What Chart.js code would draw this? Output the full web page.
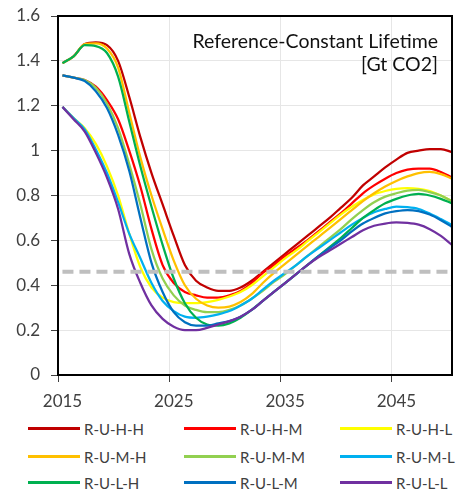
<!DOCTYPE html>
<html>
<head>
<meta charset="utf-8">
<script src="https://cdn.jsdelivr.net/npm/chart.js@4.4.1/dist/chart.umd.min.js"></script>
<style>
  body { margin: 0; background: #fff; font-family: Lato, "Open Sans", sans-serif; }
  #wrap { position: relative; width: 460px; height: 497px; }
  #note { position: absolute; right: 22px; top: 29px; text-align: right; font-size: 19.5px; line-height: 23px; color: #111; }
  .item { position: absolute; height: 20px; font-size: 15px; line-height: 20px; color: #404040; white-space: nowrap; }
  .item span.swatch { position: absolute; left: 0; top: 8px; width: 52px; height: 3px; }
  .item span.label { position: absolute; left: 56px; top: 0; }
</style>
</head>
<body>
<div id="wrap">
  <canvas id="mycanvas" width="460" height="415"></canvas>
  <div id="note">Reference-Constant Lifetime<br>[Gt CO2]</div>
  <div id="legend"></div>
</div>
<script>
var years = [2015, 2016, 2017, 2018, 2019, 2020, 2021, 2022, 2023, 2024, 2025, 2026,
             2027, 2028, 2029, 2030, 2031, 2032, 2033, 2034, 2035, 2036, 2037, 2038,
             2039, 2040, 2041, 2042, 2043, 2044, 2045, 2046, 2047, 2048, 2049, 2050];

var ruHH = [1.39, 1.42, 1.475, 1.482, 1.47, 1.40, 1.24, 1.06, 0.90, 0.76, 0.62, 0.49,
            0.42, 0.39, 0.375, 0.375, 0.39, 0.42, 0.46, 0.50, 0.54, 0.58, 0.62, 0.66,
            0.70, 0.745, 0.79, 0.845, 0.885, 0.925, 0.96, 0.99, 1.0, 1.007, 1.007, 0.993];
var ruHM = [1.335, 1.325, 1.315, 1.285, 1.225, 1.14, 1.0, 0.84, 0.65, 0.49, 0.41, 0.37,
            0.355, 0.345, 0.345, 0.355, 0.375, 0.41, 0.455, 0.49, 0.53, 0.565, 0.60, 0.64,
            0.68, 0.72, 0.765, 0.81, 0.845, 0.875, 0.90, 0.915, 0.92, 0.92, 0.905, 0.88];
var ruHL = [1.195, 1.145, 1.10, 1.03, 0.93, 0.80, 0.63, 0.48, 0.39, 0.345, 0.325, 0.32,
            0.32, 0.325, 0.335, 0.35, 0.37, 0.40, 0.44, 0.48, 0.52, 0.555, 0.595, 0.635,
            0.675, 0.715, 0.75, 0.78, 0.805, 0.82, 0.83, 0.833, 0.83, 0.82, 0.80, 0.775];
var ruMH = [1.39, 1.42, 1.475, 1.478, 1.455, 1.37, 1.17, 0.97, 0.80, 0.65, 0.51, 0.40,
            0.34, 0.31, 0.30, 0.305, 0.325, 0.36, 0.41, 0.455, 0.495, 0.535, 0.575, 0.615,
            0.655, 0.695, 0.735, 0.775, 0.81, 0.84, 0.865, 0.885, 0.90, 0.905, 0.895, 0.875];
var ruMM = [1.335, 1.325, 1.315, 1.28, 1.21, 1.10, 0.94, 0.76, 0.56, 0.43, 0.355, 0.31,
            0.29, 0.28, 0.28, 0.29, 0.31, 0.34, 0.375, 0.415, 0.45, 0.49, 0.53, 0.57,
            0.61, 0.65, 0.695, 0.735, 0.77, 0.795, 0.81, 0.822, 0.825, 0.815, 0.80, 0.775];
var ruML = [1.195, 1.145, 1.095, 1.005, 0.90, 0.77, 0.63, 0.52, 0.41, 0.33, 0.285, 0.26,
            0.255, 0.26, 0.27, 0.285, 0.31, 0.34, 0.38, 0.42, 0.455, 0.49, 0.53, 0.565,
            0.60, 0.635, 0.67, 0.70, 0.725, 0.74, 0.75, 0.748, 0.74, 0.72, 0.695, 0.668];
var ruLH = [1.39, 1.42, 1.47, 1.466, 1.435, 1.33, 1.13, 0.93, 0.75, 0.58, 0.43, 0.32,
            0.255, 0.225, 0.22, 0.23, 0.255, 0.29, 0.33, 0.37, 0.41, 0.45, 0.49, 0.53,
            0.57, 0.61, 0.655, 0.70, 0.735, 0.765, 0.785, 0.80, 0.807, 0.80, 0.785, 0.765];
var ruLM = [1.335, 1.325, 1.31, 1.265, 1.19, 1.07, 0.91, 0.70, 0.50, 0.37, 0.28, 0.235,
            0.22, 0.22, 0.23, 0.24, 0.26, 0.29, 0.33, 0.37, 0.41, 0.45, 0.49, 0.53,
            0.565, 0.60, 0.64, 0.675, 0.70, 0.72, 0.73, 0.735, 0.73, 0.715, 0.69, 0.66];
var ruLL = [1.195, 1.14, 1.085, 0.99, 0.88, 0.74, 0.54, 0.41, 0.31, 0.25, 0.215, 0.20,
            0.20, 0.21, 0.225, 0.24, 0.26, 0.29, 0.33, 0.37, 0.41, 0.45, 0.49, 0.525,
            0.555, 0.585, 0.615, 0.645, 0.665, 0.675, 0.68, 0.678, 0.67, 0.65, 0.62, 0.58];

var seriesNames = ["R-U-H-H", "R-U-H-M", "R-U-H-L", "R-U-M-H", "R-U-M-M", "R-U-M-L", "R-U-L-H", "R-U-L-M", "R-U-L-L"];
var seriesData = [ruHH, ruHM, ruHL, ruMH, ruMM, ruML, ruLH, ruLM, ruLL];
var seriesColors = ["#C00000", "#FF0000", "#FFFF00", "#FFC000", "#92D050", "#00B0F0", "#00B050", "#0070C0", "#7030A0"];

var budgetLevel = 0.46;
// Excel puts the category tick marks a little left of the year they label
var xTickPos = [2014.6, 2024.6, 2034.6, 2044.6];
var xTickLabels = ["2015", "2025", "2035", "2045"];
var yTickLabels = ["0", "0.2", "0.4", "0.6", "0.8", "1", "1.2", "1.4", "1.6"];

var datasets = [];
for (var i = 0; i < seriesData.length; i++) {
    var pts = [];
    for (var j = 0; j < years.length; j++) {
        pts.push({ x: years[j], y: seriesData[i][j] });
    }
    datasets.push({
        label: seriesNames[i],
        data: pts,
        borderColor: seriesColors[i],
        backgroundColor: seriesColors[i],
        borderWidth: 2.25,
        pointRadius: 0,
        fill: false,
        cubicInterpolationMode: "monotone",
        order: seriesData.length - i
    });
}
datasets.push({
    label: "budget",
    data: [{ x: years[0], y: budgetLevel }, { x: years[years.length - 1], y: budgetLevel }],
    borderColor: "#BFBFBF",
    borderWidth: 4,
    borderDash: [11, 6],
    pointRadius: 0,
    fill: false,
    order: -1
});

// frame around the plot area
var frame = {
    id: "frame",
    afterDraw: function (chart) {
        var a = chart.chartArea, ctx = chart.ctx;
        ctx.save();
        ctx.strokeStyle = "#000";
        ctx.lineWidth = 2;
        ctx.strokeRect(a.left, a.top, a.right - a.left, a.bottom - a.top);
        ctx.restore();
    }
};

var ctx = document.getElementById("mycanvas");
var lineGraph = new Chart(ctx, {
    type: "line",
    data: { datasets: datasets },
    plugins: [frame],
    options: {
        responsive: false,
        animation: false,
        layout: { padding: { left: 0, top: 16, right: 8, bottom: 0 } },
        plugins: { legend: { display: false }, tooltip: { enabled: false } },
        scales: {
            x: {
                type: "linear",
                min: 2014.6,
                max: 2050,
                afterBuildTicks: function (scale) {
                    scale.ticks = xTickPos.map(function (v) { return { value: v }; });
                },
                afterFit: function (scale) {
                    scale.height = 40;
                    scale.paddingLeft = 0;
                    scale.paddingRight = 0;
                },
                grid: { color: "#E6E6E6", tickColor: "#404040", tickLength: 7 },
                border: { color: "#000", width: 2 },
                ticks: {
                    color: "#404040",
                    font: { family: "Lato", size: 17 },
                    padding: 9,
                    labelOffset: 4.5,
                    maxRotation: 0,
                    callback: function (v, idx) { return xTickLabels[idx]; }
                }
            },
            y: {
                min: 0,
                max: 1.6,
                afterBuildTicks: function (scale) {
                    scale.ticks = yTickLabels.map(function (t) { return { value: parseFloat(t) }; });
                },
                afterFit: function (scale) {
                    scale.width = 58;
                    scale.paddingTop = 0;
                    scale.paddingBottom = 0;
                },
                grid: { color: "#E6E6E6", tickColor: "#404040", tickLength: 7 },
                border: { color: "#000", width: 2 },
                ticks: {
                    color: "#404040",
                    font: { family: "Lato", size: 17 },
                    padding: 11,
                    callback: function (v, idx) { return yTickLabels[idx]; }
                }
            }
        }
    }
});

// legend laid out in three columns like the original
var legend = document.getElementById("legend");
var colX = [28, 184, 340];
var rowY = [419, 447, 473];
for (var k = 0; k < seriesNames.length; k++) {
    var item = document.createElement("div");
    item.className = "item";
    item.style.left = colX[k % 3] + "px";
    item.style.top = rowY[Math.floor(k / 3)] + "px";
    item.innerHTML = '<span class="swatch" style="background:' + seriesColors[k] + '"></span><span class="label">' + seriesNames[k] + '</span>';
    legend.appendChild(item);
}
</script>
</body>
</html>
